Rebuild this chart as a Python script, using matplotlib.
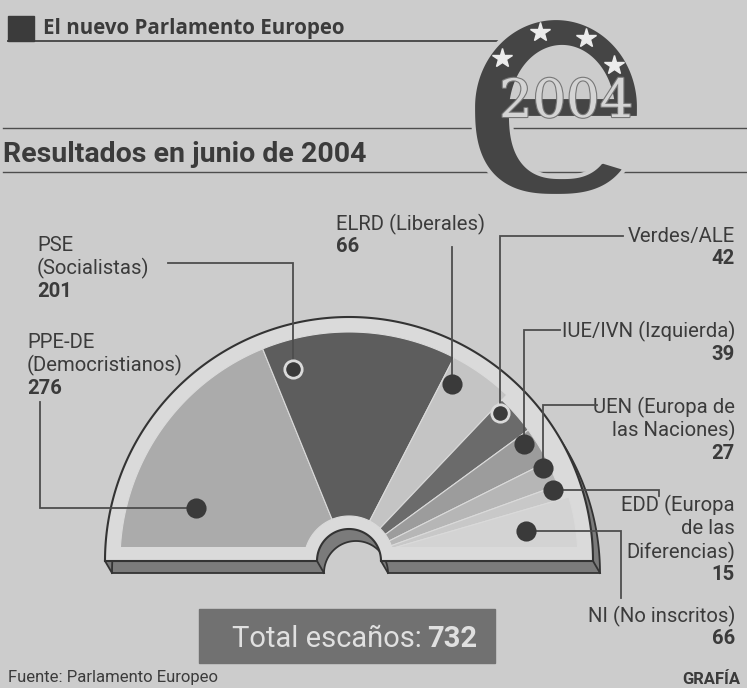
import numpy as np
import matplotlib.pyplot as plt
from matplotlib.patches import Polygon, Rectangle, PathPatch
from matplotlib.path import Path
import matplotlib.patheffects as pe

LETRA = 'Roboto'
TITULAR = 'Open Sans'

# datos: escaños por grupo, junio 2004
partidos = ['PPE-DE', 'PSE', 'ELRD', 'Verdes/ALE', 'IUE/IVN', 'UEN', 'EDD', 'NI']
escanos = [276, 201, 66, 42, 39, 27, 15, 66]
nombres = [['PPE-DE', '(Democristianos)'],
           ['PSE', '(Socialistas)'],
           ['ELRD (Liberales)'],
           ['Verdes/ALE'],
           ['IUE/IVN (Izquierda)'],
           ['UEN (Europa de', 'las Naciones)'],
           ['EDD (Europa', 'de las', 'Diferencias)'],
           ['NI (No inscritos)']]
total = sum(escanos)

colores = ['#ababab', '#5d5d5d', '#c4c4c4', '#6b6b6b', '#9c9c9c', '#b6b6b6', '#c8c8c8', '#d3d3d3']
rad_ext = [229, 229, 229, 222, 222, 222, 222, 229]
# posicion del punto dentro de su sector (fraccion del angulo, radio en px)
punto_frac = [0.28, 0.12, 0.18, 0.2, 0.25, 0.15, 0.2, 0.41]
punto_r = [162, 200, 205, 212, 210, 215, 216, 180]
# lineas de llamada: tipo, codo, final
llamadas = [('h', 40, 402), ('v', 263, 168), ('v', 247, None), ('v', 236, 623),
            ('v', 330, 560), ('v', 405, 597), ('h', 659, None), ('h', 621, 598)]
# texto: x, primera linea base, alineacion
textos = [(27, 348, 'left'), (37, 251, 'left'), (336, 230, 'left'), (735, 242, 'right'),
          (735, 337, 'right'), (735, 413, 'right'), (735, 511, 'right'), (735, 622, 'right')]
interlinea = 23.5

estrellas_x = [502, 540, 586, 614]
estrellas_y = [58, 32, 38, 65]

fondo = '#cccccc'
cara = '#dadada'
oscuro = '#3b3b3b'
linea = '#4d4d4d'

fig = plt.figure(figsize=(7.47, 6.88), dpi=100)
fig.patch.set_facecolor(fondo)
ax = fig.add_axes([0, 0, 1, 1])
ax.set_xlim(0, 747)
ax.set_ylim(688, 0)
ax.axis('off')

# cabecera
ax.add_patch(Rectangle((8, 16), 26, 25, color=oscuro, zorder=3))
ax.text(43, 34, 'El nuevo Parlamento Europeo', fontsize=14.8, family=TITULAR,
        weight='bold', color=oscuro)
ax.plot([8, 556], [41, 41], color=linea, lw=1.4, zorder=1)
ax.plot([3, 747], [128, 128], color=linea, lw=1.0, zorder=1)
ax.plot([3, 747], [172, 172], color=linea, lw=1.0, zorder=1)
ax.text(3, 162, 'Resultados en junio de 2004', fontsize=20.5, family=LETRA,
        weight='bold', color=oscuro)

# logo: la "e" con su barra, hueco superior y abertura abajo a la derecha
ex, ey, ea, eb = 556, 107, 83, 89
hx, hy, ha_, hb = 562, 112, 51, 65
bar_sup, bar_inf = 97, 118


def elip(x0, y0, a, b, t):
    # mitad de arriba eliptica, mitad de abajo algo mas cuadrada
    t = np.radians(t)
    c, s = np.cos(t), np.sin(t)
    n = np.where(s < 0, 2.6, 2.0)
    return np.c_[x0 + a * np.sign(c) * np.abs(c) ** (2 / n),
                 y0 - b * np.sign(s) * np.abs(s) ** (2 / n)]


t_bs = np.degrees(np.arcsin((ey - bar_sup) / eb))
t_bi = -np.degrees(np.arcsin(((bar_inf - ey) / eb) ** (2.6 / 2)))
h_bs = np.degrees(np.arcsin((hy - bar_sup) / hb))
h_bi = -np.degrees(np.arcsin(((bar_inf - hy) / hb) ** (2.6 / 2)))
exterior = np.vstack([
    elip(ex, ey, ea, eb, np.linspace(t_bs, 322, 220)),
    elip(hx, hy, ha_, hb, np.linspace(316, 180 - h_bi, 140)),
    elip(ex, ey, ea, eb, np.linspace(360 + t_bi, 360 + t_bs, 10)),
])
hueco = elip(hx, hy, ha_, hb, np.linspace(180 - h_bs, h_bs, 120))
verts = np.vstack([exterior, exterior[:1], hueco, hueco[:1]])
codes = ([Path.MOVETO] + [Path.LINETO] * (len(exterior) - 1) + [Path.CLOSEPOLY]
         + [Path.MOVETO] + [Path.LINETO] * (len(hueco) - 1) + [Path.CLOSEPOLY])
ax.add_patch(PathPatch(Path(verts, codes), fc='#454545', ec=fondo, lw=3, zorder=4))
ax.plot(estrellas_x, estrellas_y, '*', ms=15, color='#ececec', mec='#ececec', zorder=5)
ax.text(566, 117, '2004', fontsize=38, family='DejaVu Serif', color='#d4d4d4',
        ha='center', va='baseline', zorder=6,
        path_effects=[pe.withStroke(linewidth=1.6, foreground='#777777')])

# hemiciclo
cx, cy, R = 349, 561, 244
r_hueco = 32
dx3, dy3 = 7, 12


def contorno(x0, y0):
    t1 = np.linspace(0, np.pi, 240)
    ext = np.c_[x0 + R * np.cos(t1), y0 - R * np.sin(t1)]
    t2 = np.linspace(np.pi, 0, 60)
    muesca = np.c_[x0 + r_hueco * np.cos(t2), y0 - r_hueco * np.sin(t2)]
    return np.vstack([ext, muesca])


for k in np.linspace(0, 1, 14):
    ax.add_patch(Polygon(contorno(cx + k * dx3, cy + k * dy3), closed=True,
                         fc='#7b7b7b', ec='none', zorder=2))
ax.add_patch(Polygon(contorno(cx + dx3, cy + dy3), closed=True, fc='none',
                     ec='#333333', lw=1.3, zorder=2))
for xb in [cx - R, cx - r_hueco, cx + r_hueco, cx + R]:
    ax.plot([xb, xb + dx3], [cy, cy + dy3], color='#333333', lw=1.3, zorder=2)
ax.add_patch(Polygon(contorno(cx, cy), closed=True, fc=cara, ec='#333333',
                     lw=1.5, zorder=3))

corte = Rectangle((0, 0), 747, 547, transform=ax.transData)
angulos = 180 - 180 * np.cumsum([0] + escanos) / total
r_int = 45
for i in range(len(partidos)):
    a0, a1 = np.radians(angulos[i]), np.radians(angulos[i + 1])
    t = np.linspace(a0, a1, 80)
    pts = np.vstack([np.c_[cx + rad_ext[i] * np.cos(t), cy - rad_ext[i] * np.sin(t)],
                     np.c_[cx + r_int * np.cos(t[::-1]), cy - r_int * np.sin(t[::-1])]])
    cuna = Polygon(pts, closed=True, fc=colores[i], ec=cara, lw=0.8, zorder=4)
    ax.add_patch(cuna)
    cuna.set_clip_path(corte)

    # punto y linea de llamada
    a = a0 - punto_frac[i] * (a0 - a1)
    px, py = cx + punto_r[i] * np.cos(a), cy - punto_r[i] * np.sin(a)
    tipo, codo, fin = llamadas[i]
    if tipo == 'v':
        xs, ys = [px, px], [py, codo]
        if fin is not None:
            xs.append(fin)
            ys.append(codo)
    else:
        xs, ys = [px, codo, codo], [py, py, fin if fin is not None else py + 6]
    ax.plot(xs, ys, color=linea, lw=1.3, zorder=5, solid_joinstyle='miter')
    anillo = cara if colores[i] in ('#5d5d5d', '#6b6b6b') else '#3a3a3a'
    ax.plot(px, py, 'o', ms=12.5, mfc='#3a3a3a', mec=anillo, mew=2, zorder=6)

    # etiqueta
    tx, ty, ha = textos[i]
    for j, lin in enumerate(nombres[i]):
        ax.text(tx, ty + j * interlinea, lin, fontsize=14.6, family=LETRA,
                color=oscuro, ha=ha, va='baseline')
    ax.text(tx, ty + len(nombres[i]) * interlinea - 1, str(escanos[i]), fontsize=14.6,
            family=LETRA, weight='bold', color=oscuro, ha=ha, va='baseline')

# total
ax.add_patch(Rectangle((199, 609), 296, 54, color='#717171', zorder=3))
ax.text(422, 647, 'Total escaños:', fontsize=21, family=LETRA,
        color='#e0e0e0', ha='right', va='baseline', zorder=4)
ax.text(427, 647, str(total), fontsize=21, family=LETRA, weight='bold',
        color='#e0e0e0', ha='left', va='baseline', zorder=4)

ax.text(8, 682, 'Fuente: Parlamento Europeo', fontsize=12, family=LETRA, color=oscuro)
ax.text(682, 684, 'GRAFÍA', fontsize=12, family=LETRA, weight='bold', color=oscuro)

fig.savefig('out.png', dpi=100, facecolor=fondo)
